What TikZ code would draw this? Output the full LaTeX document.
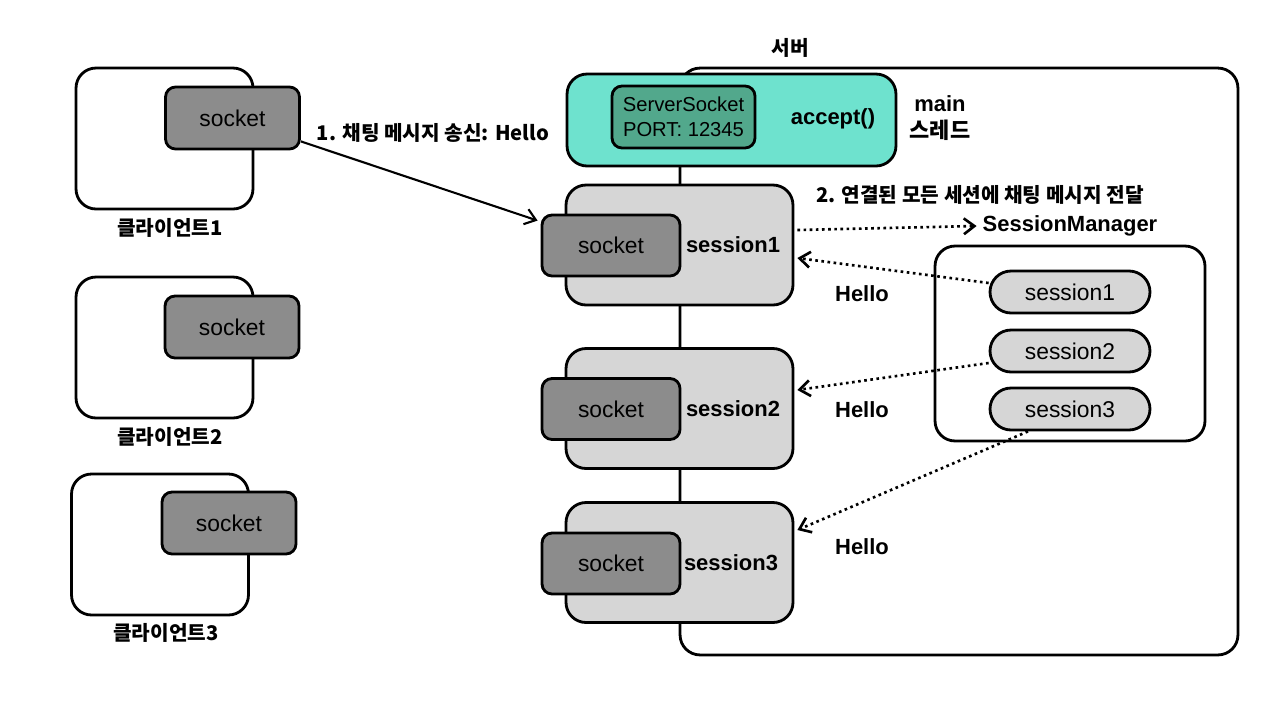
\documentclass[tikz,border=0pt]{standalone}
\usepackage{fontspec}
\setmainfont{Liberation Sans}
\newfontfamily\kr{Noto Sans CJK KR}
\usepackage{tikz}
\usetikzlibrary{shapes,arrows.meta,calc}
\definecolor{mainteal}{RGB}{110,226,206}
\definecolor{sockgreen}{RGB}{82,168,140}
\definecolor{sessgray}{RGB}{214,214,214}
\definecolor{sockgray}{RGB}{140,140,140}
\tikzstyle{frame} = [draw, rectangle, fill=white, rounded corners=0.4cm]
\tikzstyle{sessbox} = [draw, rectangle, fill=sessgray, rounded corners=0.4cm, minimum width=4.54cm, minimum height=2.4cm]
\tikzstyle{sock} = [draw, rectangle, fill=sockgray, rounded corners=0.2cm, font=\fontsize{13}{15}\selectfont]
\tikzstyle{smitem} = [draw, rectangle, fill=sessgray, rounded corners=0.42cm, minimum width=3.2cm, minimum height=0.84cm, font=\fontsize{13}{15}\selectfont]
\tikzstyle{lbl} = [font=\fontsize{12.5}{15}\selectfont\bfseries, inner sep=1pt]
\tikzstyle{krlbl} = [font=\fontsize{11.5}{14}\selectfont\kr\bfseries, inner sep=1pt]
\tikzstyle{line} = [draw, line width=1.2pt, -{Straight Barb[length=6pt,width=9pt]}]
\tikzstyle{dots} = [draw, line width=1.5pt, dash pattern=on 1.5pt off 2pt, -{Straight Barb[length=6pt,width=9pt]}]

\begin{document}
\begin{tikzpicture}[x=0.02cm, y=-0.02cm, line width=1.6pt]
        \useasboundingbox (0,0) rectangle (1284,714);
        % server
        \node[frame, minimum width=11.16cm, minimum height=11.74cm] (server) at (959,361.5) {};
        \node[krlbl] (serverlbl) at (790,48) {서버};
        \node[draw, rectangle, fill=mainteal, rounded corners=0.4cm, minimum width=6.58cm, minimum height=1.84cm] (main) at (731.5,120) {};
        \node[draw, rectangle, fill=sockgreen, rounded corners=0.2cm, minimum width=2.86cm, minimum height=1.24cm, align=center, font=\fontsize{11.5}{14}\selectfont] (ssock) at (683.5,117) {ServerSocket\\PORT: 12345};
        \node[lbl] (accept) at (833,119) {accept()};
        \node[lbl, align=center] (mainlbl) at (940,118) {main\\{\kr 스레드}};
        % sessions
        \node[sessbox] (sess1) at (679.5,245) {};
        \node[sessbox] (sess2) at (679.5,408.5) {};
        \node[sessbox] (sess3) at (679.5,562.5) {};
        \node[sock, minimum width=2.76cm, minimum height=1.22cm] (ssock1) at (611,245.5) {socket};
        \node[sock, minimum width=2.76cm, minimum height=1.22cm] (ssock2) at (611,409) {socket};
        \node[sock, minimum width=2.76cm, minimum height=1.22cm] (ssock3) at (611,563.5) {socket};
        \node[lbl] (sesslbl1) at (733,245) {session1};
        \node[lbl] (sesslbl2) at (733,409) {session2};
        \node[lbl] (sesslbl3) at (731,563) {session3};
        % clients
        \node[frame, minimum width=3.54cm, minimum height=2.82cm] (client1) at (164.5,138.5) {};
        \node[frame, minimum width=3.54cm, minimum height=2.82cm] (client2) at (164.5,347.5) {};
        \node[frame, minimum width=3.54cm, minimum height=2.82cm] (client3) at (160,544.5) {};
        \node[sock, minimum width=2.68cm, minimum height=1.24cm] (csock1) at (232.5,118) {socket};
        \node[sock, minimum width=2.68cm, minimum height=1.24cm] (csock2) at (232,327) {socket};
        \node[sock, minimum width=2.68cm, minimum height=1.24cm] (csock3) at (229,523) {socket};
        \node[krlbl] (clbl1) at (170,228) {클라이언트1};
        \node[krlbl] (clbl2) at (170,437) {클라이언트2};
        \node[krlbl] (clbl3) at (166,633) {클라이언트3};
        % session manager
        \node[lbl] (smlbl) at (1070,226) {SessionManager};
        \node[frame, minimum width=5.4cm, minimum height=3.9cm] (sm) at (1070,343.5) {};
        \node[smitem] (sm1) at (1070,292) {session1};
        \node[smitem] (sm2) at (1070,351) {session2};
        \node[smitem] (sm3) at (1070,409) {session3};
        % messages
        \node[krlbl] (msg1) at (433,133) {1. 채팅 메시지 송신: Hello};
        \node[krlbl] (msg2) at (980,195) {2. 연결된 모든 세션에 채팅 메시지 전달};
        \node[lbl] (hello1) at (862,294) {Hello};
        \node[lbl] (hello2) at (862,410) {Hello};
        \node[lbl] (hello3) at (862,547) {Hello};
        \path[line] ([yshift=0.18cm]csock1.south east) -- ([xshift=-0.06cm,yshift=-0.14cm]ssock1.north west);
        \path[dots] ([xshift=0.06cm,yshift=0.3cm]sess1.east) -- ([xshift=-0.06cm]smlbl.west);
        \path[dots] ([yshift=0.18cm]sm1.west) -- ([xshift=0.06cm,yshift=-0.26cm]sess1.east);
        \path[dots] ([yshift=-0.24cm]sm2.west) -- ([xshift=0.06cm,yshift=0.37cm]sess2.east);
        \path[dots] ([xshift=-0.84cm]sm3.south) -- ([xshift=0.06cm,yshift=0.65cm]sess3.east);
    \end{tikzpicture}
\end{document}
